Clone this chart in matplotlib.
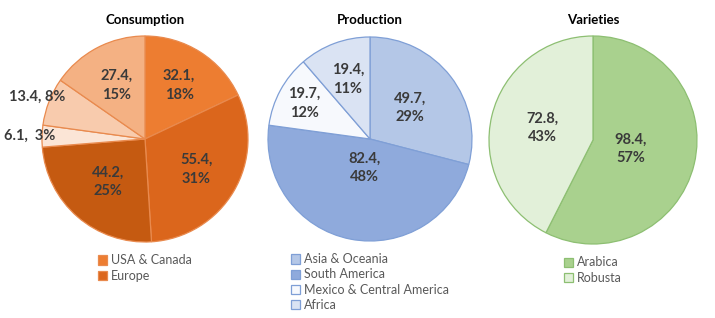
import matplotlib
matplotlib.use("Agg")
import matplotlib.pyplot as plt
import numpy as np

plt.rcParams['font.family'] = ['Lato', 'DejaVu Sans']

# data
cons_names = ["USA & Canada", "Europe", "Asia & Oceania", "Mexico & Central America", "Africa", "South America"]
cons_vals = [32.1, 55.4, 44.2, 6.1, 13.4, 27.4]
cons_pcts = [18, 31, 25, 3, 8, 15]

prod_names = ["Asia & Oceania", "South America", "Mexico & Central America", "Africa"]
prod_vals = [49.7, 82.4, 19.7, 19.4]
prod_pcts = [29, 48, 12, 11]

var_names = ["Arabica", "Robusta"]
var_vals = [98.4, 72.8]
var_pcts = [57, 43]

# styling
cons_colors = ["#ED7D31", "#DB661C", "#C55A11", "#FBE5D6", "#F8CBAD", "#F4B183"]
prod_colors = ["#B4C7E7", "#8FAADC", "#F7F9FD", "#DAE3F3"]
var_colors = ["#A9D18E", "#E2F0D9"]

LABEL_COLOR = "#3A3A3A"


def draw_pie(ax, title, vals, pcts, names, colors, edge, dists, inline, n_legend):
    wedges, _ = ax.pie(vals, colors=colors, startangle=90, counterclock=False,
                       wedgeprops=dict(edgecolor=edge, linewidth=0.9))
    for i, w in enumerate(wedges):
        ang = np.deg2rad((w.theta1 + w.theta2) / 2)
        d = dists[i]
        if inline[i]:
            txt = inline[i].format(vals[i], pcts[i])
        else:
            txt = "{},\n{}%".format(vals[i], pcts[i])
        ax.text(d * np.cos(ang), d * np.sin(ang), txt, ha='center', va='center',
                fontsize=10.5, fontweight='bold', color=LABEL_COLOR, linespacing=1.45)
    ax.set_title(title, fontsize=9.5, fontweight='bold', color='black', pad=9)
    ax.set_xlim(-1, 1)
    ax.set_ylim(-1, 1)
    ax.set_aspect('equal')
    leg = ax.legend(wedges[:n_legend], names[:n_legend], loc='upper center',
                    bbox_to_anchor=(0.5, -0.03), frameon=False, fontsize=9,
                    handlelength=0.75, handleheight=0.75, handletextpad=0.3,
                    labelspacing=0.25, borderpad=0)
    for t in leg.get_texts():
        t.set_color("#595959")


fig = plt.figure(figsize=(7.15, 3.18), dpi=100)
W, H = 715.0, 318.0


def pie_axes(cx, cy, r):
    return fig.add_axes([(cx - r) / W, (H - cy - r) / H, 2 * r / W, 2 * r / H])


ax1 = pie_axes(145, 139, 103)
draw_pie(ax1, "Consumption", cons_vals, cons_pcts, cons_names, cons_colors, "#E98A4E",
         [0.62, 0.58, 0.55, 1.12, 1.12, 0.59],
         [None, None, None, "{},  {}%", "{}, {}%", None], 2)

ax2 = pie_axes(370, 139, 102)
draw_pie(ax2, "Production", prod_vals, prod_pcts, prod_names, prod_colors, "#7F9FD6",
         [0.5, 0.29, 0.73, 0.62], [None] * 4, 4)

ax3 = pie_axes(593, 140, 104)
draw_pie(ax3, "Varieties", var_vals, var_pcts, var_names, var_colors, "#8DBF72",
         [0.37, 0.5], [None] * 2, 2)

fig.savefig("out.png", dpi=100, facecolor='white')
